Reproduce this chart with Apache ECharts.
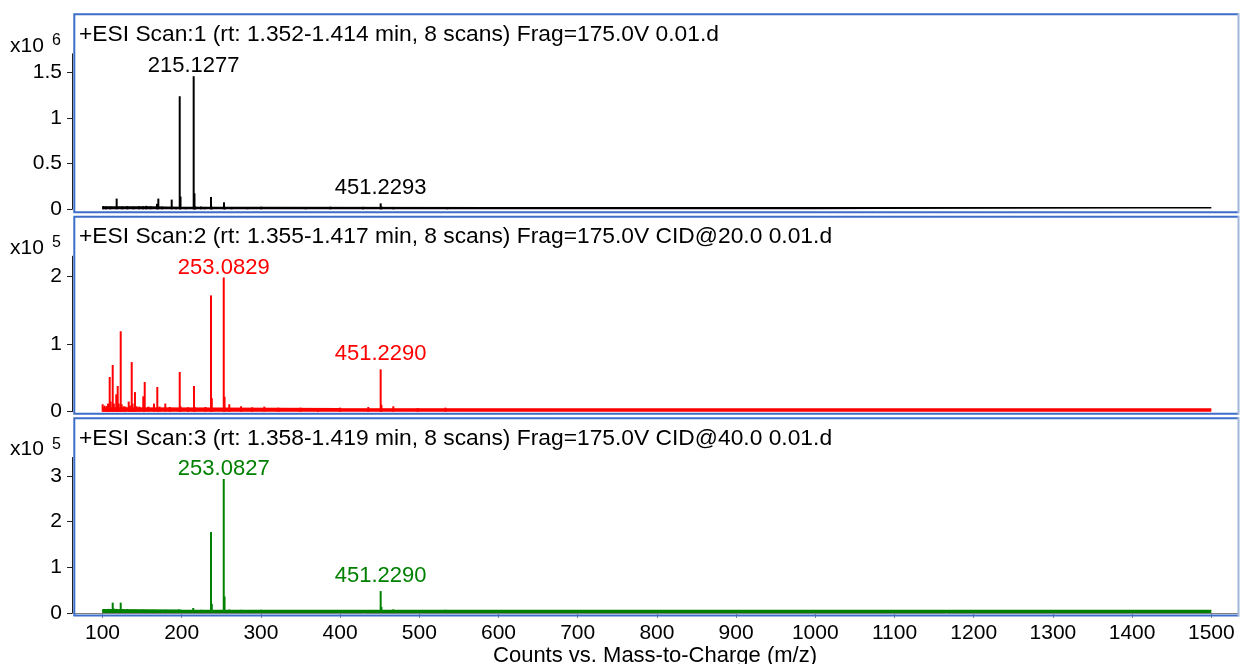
<!DOCTYPE html>
<html>
<head>
<meta charset="utf-8">
<title>ESI scans</title>
<script src="https://cdn.jsdelivr.net/npm/echarts@6/dist/echarts.min.js"></script>
<style>
  html, body { margin: 0; padding: 0; background: #ffffff; }
  #chart { width: 1240px; height: 664px; }
</style>
</head>
<body>
<div id="chart"></div>
<script>
// ---- m/z axis ----
const mzTicks = [100, 200, 300, 400, 500, 600, 700, 800, 900, 1000, 1100, 1200, 1300, 1400, 1500];
const mzAxisName = 'Counts vs. Mass-to-Charge (m/z)';

// ---- scan headers ----
const scanTitles = [
  '+ESI Scan:1 (rt: 1.352-1.414 min, 8 scans) Frag=175.0V 0.01.d',
  '+ESI Scan:2 (rt: 1.355-1.417 min, 8 scans) Frag=175.0V CID@20.0 0.01.d',
  '+ESI Scan:3 (rt: 1.358-1.419 min, 8 scans) Frag=175.0V CID@40.0 0.01.d'
];

// ---- Scan 1: centroid peaks [m/z, counts] ----
const scan1Peaks = [
  [100.8, 34000], [104.5, 30000], [110.2, 28000], [117.9, 117000], [124.6, 30000],
  [131.2, 34000], [138.9, 28000], [146.3, 34000], [151.0, 32000], [155.4, 38000],
  [160.7, 30000], [168.8, 60000], [170.5, 117000], [175.1, 28000], [187.4, 106000],
  [193.0, 26000], [197.5, 1236000], [198.5, 140000], [205.3, 26000], [215.1277, 1455000],
  [216.13, 175000], [217.1, 32000], [224.4, 30000], [228.8, 26000], [237.0, 135000],
  [238.0, 28000], [253.4, 77000], [254.4, 26000], [263.1, 26000], [283.2, 24000],
  [300.5, 28000], [356.6, 24000], [387.7, 28000], [429.0, 27000], [451.2293, 65000],
  [452.2, 30000], [467.3, 26000], [535.4, 24000]
];
// noise floor [m/z, counts]
const scan1Floor = [[100, 26000], [160, 24000], [200, 20000], [300, 19000], [600, 18000], [1000, 18000], [1500, 18000]];
const scan1Labelled = [215.1277, 451.2293];
const scan1YTicks = [0, 0.5, 1, 1.5];
const scan1YMax = 1.7;
const scan1Exponent = 6;

// ---- Scan 2 (CID 20) ----
const scan2Peaks = [
  [100.2, 11000], [102.5, 9000], [105.3, 8400], [107.0, 12000], [109.1, 51300],
  [110.3, 15000], [112.9, 69000], [114.3, 12000], [117.4, 25700], [119.2, 38000],
  [120.5, 12000], [123.0, 119000], [124.2, 11000], [127.0, 8000], [129.0, 7500],
  [133.1, 15000], [135.0, 9000], [136.9, 73400], [138.0, 12000], [141.0, 29000],
  [143.0, 8000], [146.5, 7500], [151.5, 22700], [153.3, 44000], [158.0, 7500],
  [165.0, 12000], [169.2, 36500], [172.0, 7500], [179.3, 12000], [185.0, 7000],
  [197.5, 58700], [198.5, 8000], [208.0, 6500], [215.5, 38000], [216.5, 7000],
  [230.0, 7000], [237.0, 172000], [238.0, 20000], [253.0829, 198500], [254.1, 22000],
  [260.1, 11000], [274.9, 8000], [289.0, 6500], [304.3, 7500], [322.0, 6000],
  [350.0, 6000], [372.0, 5500], [400.0, 6000], [435.6, 7000], [451.2290, 62600],
  [452.2, 10000], [467.2, 8000], [498.0, 5500], [533.0, 6000]
];
const scan2Floor = [[100, 5500], [250, 5000], [400, 4500], [700, 4000], [1500, 4000]];
const scan2Labelled = [253.0829, 451.2290];
const scan2YTicks = [0, 1, 2];
const scan2YMax = 2.3;
const scan2Exponent = 5;

// ---- Scan 3 (CID 40) ----
const scan3Peaks = [
  [101.0, 8000], [104.0, 8500], [108.0, 9000], [110.5, 8000], [112.9, 22600],
  [114.0, 10000], [117.5, 9000], [123.0, 22600], [126.0, 8000], [131.0, 8000],
  [140.0, 7500], [152.0, 7500], [165.0, 7000], [180.0, 7000], [196.6, 7600],
  [214.6, 11000], [225.0, 7000], [237.0, 177000], [238.0, 20000], [253.0827, 293000],
  [254.1, 36000], [260.1, 7600], [275.0, 7000], [300.0, 7000], [340.0, 6500],
  [380.0, 6500], [451.2290, 48000], [452.2, 13000], [467.2, 8000], [533.0, 7000]
];
const scan3Floor = [[100, 7000], [200, 6000], [400, 5500], [800, 5500], [1500, 5500]];
const scan3Labelled = [253.0827, 451.2290];
const scan3YTicks = [0, 1, 2, 3];
const scan3YMax = 3.4;
const scan3Exponent = 5;

// ---- layout & style ----
const FONT = '"Liberation Sans", Arial, Helvetica, sans-serif';
const COLORS = ['#000000', '#ff0000', '#008000'];
const ZERO_Y = [209.3, 411.7, 613.0];     // pixel row of zero intensity in each panel
const PLOT_H = 155.5;
const FRAMES = [[14.3, 212.3], [216.7, 413.7], [418.3, 615.6]];
const FRAME_L = 74.3, FRAME_R = 1238.5;
const GRID_L = 72, GRID_R = 1238;
const X_MIN = 61.5, X_MAX = 1533.7;

const panels = [
  { peaks: scan1Peaks, floor: scan1Floor, labelled: scan1Labelled, yTicks: scan1YTicks, yMax: scan1YMax, exp: scan1Exponent },
  { peaks: scan2Peaks, floor: scan2Floor, labelled: scan2Labelled, yTicks: scan2YTicks, yMax: scan2YMax, exp: scan2Exponent },
  { peaks: scan3Peaks, floor: scan3Floor, labelled: scan3Labelled, yTicks: scan3YTicks, yMax: scan3YMax, exp: scan3Exponent }
];

const grids = [], xAxes = [], yAxes = [], series = [], graphics = [];

panels.forEach((p, i) => {
  const color = COLORS[i];
  const scale = Math.pow(10, p.exp);
  const tickVals = p.yTicks.map(t => t * scale);
  const maxCount = Math.max(...p.peaks.map(d => d[1]));
  const isBottom = i === panels.length - 1;

  grids.push({
    left: GRID_L, width: GRID_R - GRID_L,
    top: ZERO_Y[i] - PLOT_H, height: PLOT_H,
    containLabel: false, outerBoundsMode: 'none'
  });

  xAxes.push({
    gridIndex: i, type: 'value', min: X_MIN, max: X_MAX,
    show: isBottom, offset: 5,
    axisLine: { show: true, lineStyle: { color: '#808080', width: 1 } },
    axisTick: { show: true, length: 5, customValues: mzTicks, lineStyle: { color: '#808080' } },
    axisLabel: { customValues: mzTicks, fontSize: 21, color: '#000', margin: 5, fontFamily: FONT,
                 formatter: v => String(v) },
    splitLine: { show: false },
    name: isBottom ? mzAxisName : '', nameLocation: 'middle', nameGap: 24,
    nameTextStyle: { fontSize: 22, color: '#000', fontFamily: FONT }
  });

  yAxes.push({
    gridIndex: i, type: 'value', min: 0, max: p.yMax * scale,
    axisLine: { show: true, lineStyle: { color: '#222', width: 1 } },
    axisTick: { show: true, length: 5, customValues: tickVals, lineStyle: { color: '#222' } },
    axisLabel: {
      customValues: tickVals, fontSize: 21, color: '#000', margin: 10, fontFamily: FONT,
      formatter: v => String(+(v / scale).toFixed(2))
    },
    splitLine: { show: false }
  });

  // dense low-level noise along the baseline
  series.push({
    type: 'line', xAxisIndex: i, yAxisIndex: i, data: p.floor,
    symbol: 'none', silent: true, z: 2,
    lineStyle: { color, width: 1.5 },
    areaStyle: { color, opacity: 1 }
  });

  // centroid sticks, with m/z annotations on the labelled ions
  series.push({
    type: 'bar', xAxisIndex: i, yAxisIndex: i, barWidth: 2, z: 3,
    itemStyle: { color },
    data: p.peaks.map(([mz, c]) => p.labelled.includes(mz)
      ? { value: [mz, c], label: {
            show: true, position: 'top', distance: c === maxCount ? -1 : 4,
            formatter: mz.toFixed(4), color, fontSize: 22, fontFamily: FONT } }
      : [mz, c])
  });

  // panel frame
  const [ft, fb] = FRAMES[i];
  graphics.push({
    type: 'polyline', silent: true, z: 10,
    shape: { points: [[FRAME_R, ft], [FRAME_L, ft], [FRAME_L, fb], [FRAME_R, fb]] },
    style: { stroke: '#3d6ec9', lineWidth: 2, fill: null }
  });
  graphics.push({
    type: 'line', silent: true, z: 10,
    shape: { x1: FRAME_R, y1: ft - 1, x2: FRAME_R, y2: fb + 1 },
    style: { stroke: '#a3b6dc', lineWidth: 2 }
  });

  // scan header
  graphics.push({
    type: 'text', silent: true, z: 11, x: 79, y: ft + 20.3,
    style: { text: scanTitles[i], font: '22.8px ' + FONT, fill: '#000',
             align: 'left', verticalAlign: 'middle', textAlign: 'left', textVerticalAlign: 'middle' }
  });

  // intensity multiplier
  const my = ZERO_Y[i] - PLOT_H - 7.9;
  graphics.push({
    type: 'text', silent: true, z: 11, x: 10, y: my,
    style: { text: 'x10', font: '21px ' + FONT, fill: '#000',
             align: 'left', verticalAlign: 'middle', textAlign: 'left', textVerticalAlign: 'middle' }
  });
  graphics.push({
    type: 'text', silent: true, z: 11, x: 52, y: my - 5.5,
    style: { text: String(p.exp), font: '16px ' + FONT, fill: '#000',
             align: 'left', verticalAlign: 'middle', textAlign: 'left', textVerticalAlign: 'middle' }
  });
});

const chart = echarts.init(document.getElementById('chart'), null, { renderer: 'canvas' });
chart.setOption({
  animation: false,
  backgroundColor: '#ffffff',
  textStyle: { fontFamily: FONT },
  grid: grids,
  xAxis: xAxes,
  yAxis: yAxes,
  series: series,
  graphic: { elements: graphics }
});
</script>
</body>
</html>
